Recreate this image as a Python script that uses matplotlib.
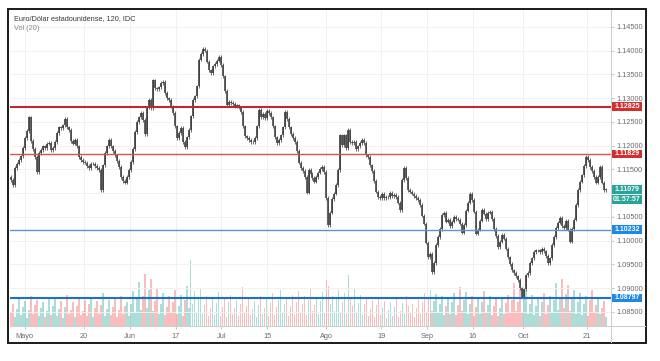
import numpy as np
import matplotlib
matplotlib.use("Agg")
import matplotlib.pyplot as plt
from matplotlib.patches import Rectangle
from matplotlib.lines import Line2D
import matplotlib.transforms as mtransforms

# ---------------- data ----------------
title = "Euro/Dólar estadounidense, 120, IDC"
vol_title = "Vol (20)"
start_date = "2019-04-26"
candles_per_day = 2.29
first_open = 1.1135

closes = [
    1.1128, 1.1117, 1.1153, 1.1162, 1.1170, 1.1178, 1.1195, 1.1216, 1.1231, 1.1260,
    1.1210, 1.1193, 1.1176, 1.1145, 1.1185, 1.1191, 1.1199, 1.1195, 1.1204, 1.1206,
    1.1191, 1.1195, 1.1208, 1.1227, 1.1239, 1.1237, 1.1243, 1.1256, 1.1239, 1.1233,
    1.1210, 1.1204, 1.1212, 1.1199, 1.1176, 1.1170, 1.1166, 1.1164, 1.1157, 1.1153,
    1.1162, 1.1162, 1.1157, 1.1153, 1.1149, 1.1107, 1.1159, 1.1185, 1.1199, 1.1212,
    1.1199, 1.1189, 1.1180, 1.1168, 1.1155, 1.1134, 1.1126, 1.1122, 1.1134, 1.1149,
    1.1166, 1.1193, 1.1229, 1.1250, 1.1260, 1.1269, 1.1254, 1.1225, 1.1281, 1.1296,
    1.1279, 1.1338, 1.1321, 1.1319, 1.1323,
    1.1332, 1.1334, 1.1311, 1.1300, 1.1296, 1.1283, 1.1269, 1.1241, 1.1216, 1.1227,
    1.1237, 1.1208, 1.1197, 1.1218, 1.1233, 1.1262, 1.1296, 1.1304, 1.1325, 1.1381,
    1.1393, 1.1404, 1.1400, 1.1377, 1.1359, 1.1353, 1.1367, 1.1372, 1.1379, 1.1387,
    1.1370, 1.1346, 1.1315, 1.1285, 1.1292, 1.1290, 1.1288, 1.1283, 1.1285, 1.1281,
    1.1271, 1.1241, 1.1220, 1.1216, 1.1212, 1.1208, 1.1208, 1.1216, 1.1241, 1.1275,
    1.1260, 1.1267, 1.1258, 1.1273, 1.1269, 1.1260, 1.1241, 1.1218, 1.1206, 1.1212,
    1.1222, 1.1239, 1.1271, 1.1256, 1.1239, 1.1225, 1.1216, 1.1208, 1.1189, 1.1164,
    1.1153, 1.1147, 1.1134, 1.1101, 1.1149,
    1.1141, 1.1132, 1.1124, 1.1134, 1.1143, 1.1151, 1.1155, 1.1145, 1.1090, 1.1033,
    1.1059, 1.1088, 1.1099, 1.1117, 1.1149, 1.1222, 1.1201, 1.1222, 1.1195, 1.1233,
    1.1208, 1.1206, 1.1208, 1.1193, 1.1199, 1.1206, 1.1212, 1.1206, 1.1180, 1.1176,
    1.1159, 1.1147, 1.1126, 1.1103, 1.1092, 1.1090, 1.1099, 1.1090, 1.1092, 1.1092,
    1.1101, 1.1094, 1.1096, 1.1092, 1.1080, 1.1065, 1.1128, 1.1153, 1.1132, 1.1107,
    1.1103, 1.1099, 1.1094, 1.1090, 1.1086, 1.1075, 1.1053, 1.1036, 1.0996, 1.0965,
    1.0972, 1.0934, 1.0953, 1.0991, 1.1008, 1.1025, 1.1054, 1.1059, 1.1040, 1.1044,
    1.1031, 1.1040, 1.1050, 1.1046,
    1.1044, 1.1036, 1.1017, 1.1033, 1.1063, 1.1080, 1.1099, 1.1086, 1.1061, 1.1015,
    1.1023, 1.1042, 1.1065, 1.1057, 1.1046, 1.1059, 1.1061, 1.1046, 1.1025, 1.1010,
    1.0987, 1.0998, 1.1012, 1.1004, 1.0983, 1.0965, 1.0951, 1.0938, 1.0932, 1.0925,
    1.0917, 1.0900, 1.0882, 1.0898, 1.0927, 1.0932, 1.0953, 1.0963, 1.0976, 1.0980,
    1.0980, 1.0976, 1.0983, 1.0978, 1.0968, 1.0953, 1.0963, 1.0991, 1.1008, 1.1027,
    1.1038, 1.1048, 1.1031, 1.1027, 1.1042, 1.1023, 1.0998, 1.1025, 1.1044, 1.1075,
    1.1107, 1.1124, 1.1138, 1.1157, 1.1176, 1.1170, 1.1155, 1.1147, 1.1134, 1.1122,
    1.1134, 1.1155, 1.1122, 1.1107, 1.11079,
]

volumes = [
    14, 22, 9, 17, 28, 11, 19, 25, 8, 16, 30, 12, 21, 26, 10, 18, 24, 9, 15, 27,
    11, 20, 29, 10, 17, 25, 8, 19, 31, 12, 16, 24, 9, 20, 28, 11, 15, 26, 10, 22,
    27, 9, 18, 25, 12, 21, 33, 10, 17, 26, 11, 19, 28, 9, 16, 30, 12, 20, 24, 10,
    22, 35, 14, 28, 44, 16, 30, 52, 18, 36, 47, 15, 25, 38, 12, 22, 33, 11, 19, 30,
    13, 24, 36, 12, 20, 31, 10, 26, 40, 18, 66, 22, 35, 14, 27, 38, 12, 21, 30, 10,
    18, 27, 11, 23, 34, 10, 19, 28, 9, 24, 31, 12, 18, 26, 10, 22, 39, 13, 20, 29,
    11, 17, 25, 9, 21, 30, 12, 18, 27, 10, 23, 33, 11, 19, 26, 36, 13, 22, 28, 10,
    20, 31, 12, 24, 35, 14, 22, 30, 11, 26, 38, 15, 21, 29, 12, 25, 34, 13, 46, 40,
    22, 30, 15, 27, 36, 14, 24, 33, 12, 51, 28, 20, 38, 13, 23, 31, 11, 22, 29, 10,
    17, 26, 9, 21, 28, 11, 18, 25, 8, 16, 24, 10, 19, 27, 9, 15, 23, 12, 30, 20,
    14, 22, 9, 18, 26, 12, 24, 33, 14, 28, 36, 15, 25, 32, 13, 22, 30, 11, 20, 27,
    12, 24, 33, 11, 21, 39, 15, 26, 34, 12, 22, 30, 10, 19, 28, 12, 24, 35, 13, 21,
    30, 11, 20, 27, 10, 18, 29, 12, 23, 31, 13, 26, 43, 15, 24, 38, 14, 27, 36, 12,
    22, 31, 11, 20, 28, 10, 24, 33, 12, 21, 30, 14, 26, 43, 16, 29, 47, 18, 32, 41,
    15, 27, 36, 12, 24, 33, 11, 22, 30, 10, 26, 36, 13, 21, 29, 12, 18, 25, 9,
]

tick_labels = ["Mayo", "20", "Jun", "17", "Jul", "15", "Ago", "19", "Sep", "16", "Oct", "21"]
tick_dates = ["2019-05-01", "2019-05-20", "2019-06-03", "2019-06-17", "2019-07-01",
              "2019-07-15", "2019-08-01", "2019-08-19", "2019-09-02", "2019-09-16",
              "2019-10-01", "2019-10-21"]

price_ticks = [1.085, 1.090, 1.095, 1.100, 1.105, 1.110, 1.115, 1.120,
               1.125, 1.130, 1.135, 1.140, 1.145]
hidden_price_labels = [1.110]   # covered by the last-price labels in the reference

level_prices = [1.12825, 1.11829, 1.10232, 1.08797]
level_labels = ["1.12825", "1.11829", "1.10232", "1.08797"]
last_price = 1.11079
countdown = "01:57:57"

# ---------------- styles ----------------
level_line_colors = ["#c0282d", "#d9534f", "#5b95d0", "#1f6fc5"]
level_line_widths = [1.5, 1.0, 1.0, 1.5]
level_box_colors = ["#d32f2f", "#d32f2f", "#1e88e5", "#1e88e5"]
teal = "#26a69a"
red = "#ef5350"
grid_c = "#f1f1f1"
sep_c = "#cfcfcf"
label_c = "#6b6b6b"
FONT = "Liberation Sans"
wick_ext = 0.00035  # drawing style: wick length beyond body

W, H = 660, 361
fig = plt.figure(figsize=(W / 100, H / 100), dpi=100)
fig.patch.set_facecolor("white")

left_px, right_px, top_px, bottom_px = 10, 611, 10, 326
rect = [left_px / W, 1 - bottom_px / H, (right_px - left_px) / W, (bottom_px - top_px) / H]

n = len(closes)
idx = np.arange(n)
opens = [first_open] + closes[:-1]
up = np.array(closes) >= np.array(opens)

# volume axes (behind)
axv = fig.add_axes(rect)
axv.bar(idx, volumes, width=0.8, color=np.where(up, teal, red), alpha=0.38, linewidth=0)
axv.set_ylim(0, 316)
axv.set_xlim(-0.5, n + 1.5)
axv.axis("off")

# price axes
ax = fig.add_axes(rect)
ax.patch.set_alpha(0)
ax.set_xlim(-0.5, n + 1.5)
ax.set_ylim(1.08205, 1.14857)

tick_pos = [np.busday_count(start_date, d) * candles_per_day for d in tick_dates]
for tp in tick_pos:
    axv.axvline(tp, color=grid_c, lw=0.7, zorder=0)
for pt in price_ticks:
    ax.axhline(pt, color=grid_c, lw=0.7, zorder=0)

lo = np.minimum(opens, closes)
hi = np.maximum(opens, closes)
ax.vlines(idx, lo - wick_ext, hi + wick_ext, color="#555555", lw=0.6, zorder=3)
ax.vlines(idx[up], lo[up], hi[up], color="#3b3b3b", lw=1.2, zorder=3)
ax.vlines(idx[~up], lo[~up], hi[~up], color="#474747", lw=1.2, zorder=3)

for p, c, lw in zip(level_prices, level_line_colors, level_line_widths):
    ax.axhline(p, color=c, lw=lw, zorder=4)

ax.set_xticks(tick_pos)
ax.set_xticklabels(tick_labels, fontsize=5.3, color=label_c, family=FONT)
ax.set_yticks(price_ticks)
ax.set_yticklabels(["" if v in hidden_price_labels else f"{v:.5f}" for v in price_ticks],
                   fontsize=5.3, color=label_c, family=FONT)
ax.yaxis.tick_right()
ax.tick_params(axis="y", length=2, pad=2, color="#bbbbbb", width=0.6)
ax.tick_params(axis="x", length=2, pad=3, color="#bbbbbb", width=0.6)
for s in ["left", "top"]:
    ax.spines[s].set_visible(False)
for s in ["right", "bottom"]:
    ax.spines[s].set_color(sep_c)
    ax.spines[s].set_linewidth(0.8)

# labels on price scale
trans = mtransforms.blended_transform_factory(ax.transAxes, ax.transData)
bx0 = (612 - left_px) / (right_px - left_px)
bx1 = (642 - left_px) / (right_px - left_px)
bh = 0.0018

def price_box(y, text, color):
    ax.add_patch(Rectangle((bx0, y - bh / 2), bx1 - bx0, bh, transform=trans,
                           facecolor=color, edgecolor="none", clip_on=False, zorder=10))
    ax.text((bx0 + bx1) / 2, y, text, transform=trans, ha="center", va="center",
            fontsize=5.0, color="white", family=FONT, fontweight="bold", zorder=11, clip_on=False)

for p, t, c in zip(level_prices, level_labels, level_box_colors):
    price_box(p, t, c)
price_box(last_price, f"{last_price:.5f}", teal)
price_box(last_price - 0.0021, countdown, teal)

# title texts
ax.text(0.007, 0.972, title, transform=ax.transAxes, fontsize=5.3, color="#3a3a3a",
        family=FONT, ha="left", va="center")
ax.text(0.007, 0.94, vol_title, transform=ax.transAxes, fontsize=5.3, color="#8a8a8a",
        family=FONT, ha="left", va="center")

# separators and outer frame
fig.add_artist(Line2D([right_px / W, right_px / W], [1 - 342 / H, 1 - bottom_px / H],
                      color=sep_c, lw=0.8))
fig.add_artist(Line2D([right_px / W, 645 / W], [1 - bottom_px / H, 1 - bottom_px / H],
                      color=sep_c, lw=0.8))
fig.add_artist(Rectangle((8 / W, 1 - 343 / H), 638 / W, 334 / H, transform=fig.transFigure,
                         fill=False, edgecolor="#1a1a1a", lw=1.4))

fig.savefig("out.png", dpi=100)
